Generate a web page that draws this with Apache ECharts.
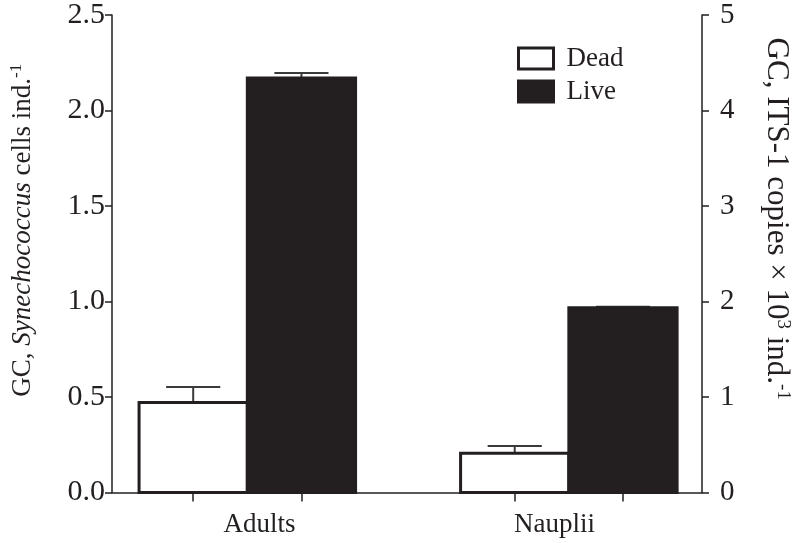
<!DOCTYPE html>
<html>
<head>
<meta charset="utf-8">
<script src="https://cdn.jsdelivr.net/npm/echarts@6/dist/echarts.min.js"></script>
<style>html,body{margin:0;padding:0;background:#fff}#c{width:800px;height:543px}</style>
</head>
<body>
<div id="c"></div>
<script>
// ---- data ----
const categories = ['Adults', 'Nauplii'];
const seriesNames = ['Dead', 'Live'];
const deadValues = [0.471, 0.205];
const deadErrors = [0.081, 0.038];
const liveValues = [2.170, 0.967];
const liveErrors = [0.026, 0.006];
const leftTicks = [0, 0.5, 1.0, 1.5, 2.0, 2.5];
const rightTicks = [0, 1, 2, 3, 4, 5];

// ---- layout (bar slots along a hidden value axis) ----
const groupStart = [0.25, 3.22];
const xMax = 5.45;
const INK = '#231f20';
const FONT = '"Liberation Serif", "Times New Roman", serif';

function buildData(values, errors, slot) {
  return values.map((v, i) => [groupStart[i] + slot + 0.5, v, errors[i]]);
}
const deadData = buildData(deadValues, deadErrors, 0);
const liveData = buildData(liveValues, liveErrors, 1);
const barCenters = deadData.map(d => d[0]).concat(liveData.map(d => d[0]));

function makeRender(fill) {
  return function (params, api) {
    const xc = api.value(0), v = api.value(1), e = api.value(2);
    const tl = api.coord([xc - 0.5, v]);
    const br = api.coord([xc + 0.5, 0]);
    const top = api.coord([xc, v + e]);
    const capL = api.coord([xc - 0.25, v + e]);
    const capR = api.coord([xc + 0.25, v + e]);
    return {
      type: 'group',
      children: [
        { type: 'line', shape: { x1: top[0], y1: tl[1], x2: top[0], y2: top[1] },
          style: { stroke: '#3a3a3a', lineWidth: 2 } },
        { type: 'line', shape: { x1: capL[0], y1: capL[1], x2: capR[0], y2: capR[1] },
          style: { stroke: '#3a3a3a', lineWidth: 2 } },
        { type: 'rect', shape: { x: tl[0], y: tl[1], width: br[0] - tl[0], height: br[1] - tl[1] },
          style: { fill: fill, stroke: INK, lineWidth: 3 } }
      ]
    };
  };
}

const chart = echarts.init(document.getElementById('c'), null, { renderer: 'canvas' });
const axisLineStyle = { color: INK, width: 1.5 };
chart.setOption({
  backgroundColor: '#fff',
  animation: false,
  textStyle: { fontFamily: FONT, color: INK },
  grid: { left: 112, right: 96, top: 13.5, bottom: 50.5, containLabel: false },
  legend: {
    orient: 'vertical', left: 512, top: 40,
    itemWidth: 35, itemHeight: 21, itemGap: 6,
    textStyle: { fontFamily: FONT, fontSize: 27, color: INK, padding: [0, 0, 0, 8] },
    data: [
      { name: seriesNames[0], icon: 'rect', itemStyle: { color: '#fff', borderColor: INK, borderWidth: 3 } },
      { name: seriesNames[1], icon: 'rect', itemStyle: { color: INK, borderColor: INK, borderWidth: 3 } }
    ]
  },
  xAxis: [
    {
      type: 'category', data: categories, position: 'bottom',
      axisLine: { lineStyle: axisLineStyle },
      axisTick: { show: false },
      axisLabel: { fontFamily: FONT, fontSize: 27, color: INK, margin: 19 },
      splitLine: { show: false }
    },
    {
      type: 'value', min: 0, max: xMax, position: 'bottom',
      axisLine: { show: false },
      axisLabel: { show: false },
      splitLine: { show: false },
      axisTick: { show: true, customValues: barCenters, length: 9, lineStyle: axisLineStyle }
    }
  ],
  yAxis: [
    {
      type: 'value', min: leftTicks[0], max: leftTicks[leftTicks.length - 1], interval: 0.5, position: 'left',
      axisLine: { show: true, lineStyle: axisLineStyle },
      axisTick: { show: true, length: 7, lineStyle: axisLineStyle },
      axisLabel: { fontFamily: FONT, fontSize: 30, color: INK, margin: 7, formatter: v => v.toFixed(1) },
      splitLine: { show: false },
      name: '{sp| }{t|GC, }{i|Synechococcus}{t| cells ind.}{sup|-1}',
      nameLocation: 'middle', nameGap: 74,
      nameTextStyle: {
        rich: {
          sp: { width: 47, fontSize: 27, lineHeight: 30 },
          t: { fontSize: 27, lineHeight: 30, fontFamily: FONT, color: INK },
          i: { fontSize: 27, lineHeight: 30, fontFamily: FONT, fontStyle: 'italic', color: INK },
          sup: { fontSize: 17, lineHeight: 12, verticalAlign: 'top', fontFamily: FONT, color: INK }
        }
      }
    },
    {
      type: 'value', min: rightTicks[0], max: rightTicks[rightTicks.length - 1], interval: 1, position: 'right',
      axisLine: { show: true, lineStyle: axisLineStyle },
      axisTick: { show: true, length: 7, lineStyle: axisLineStyle },
      axisLabel: { fontFamily: FONT, fontSize: 29, color: INK, margin: 18 },
      splitLine: { show: false },
      name: '{t|GC, ITS-1 copies × 10}{sup|3}{t| ind.}{sup|-1}{sp| }',
      nameLocation: 'middle', nameGap: 58, nameRotate: -90,
      nameTextStyle: {
        rich: {
          sp: { width: 70, fontSize: 31, lineHeight: 32 },
          t: { fontSize: 31, lineHeight: 32, fontFamily: FONT, color: INK },
          sup: { fontSize: 19, lineHeight: 13, verticalAlign: 'top', fontFamily: FONT, color: INK }
        }
      }
    }
  ],
  series: [
    { name: seriesNames[0], type: 'custom', xAxisIndex: 1, yAxisIndex: 0, data: deadData,
      itemStyle: { color: '#fff', borderColor: INK }, renderItem: makeRender('#fff') },
    { name: seriesNames[1], type: 'custom', xAxisIndex: 1, yAxisIndex: 0, data: liveData,
      itemStyle: { color: INK, borderColor: INK }, renderItem: makeRender(INK) }
  ]
});
</script>
</body>
</html>
